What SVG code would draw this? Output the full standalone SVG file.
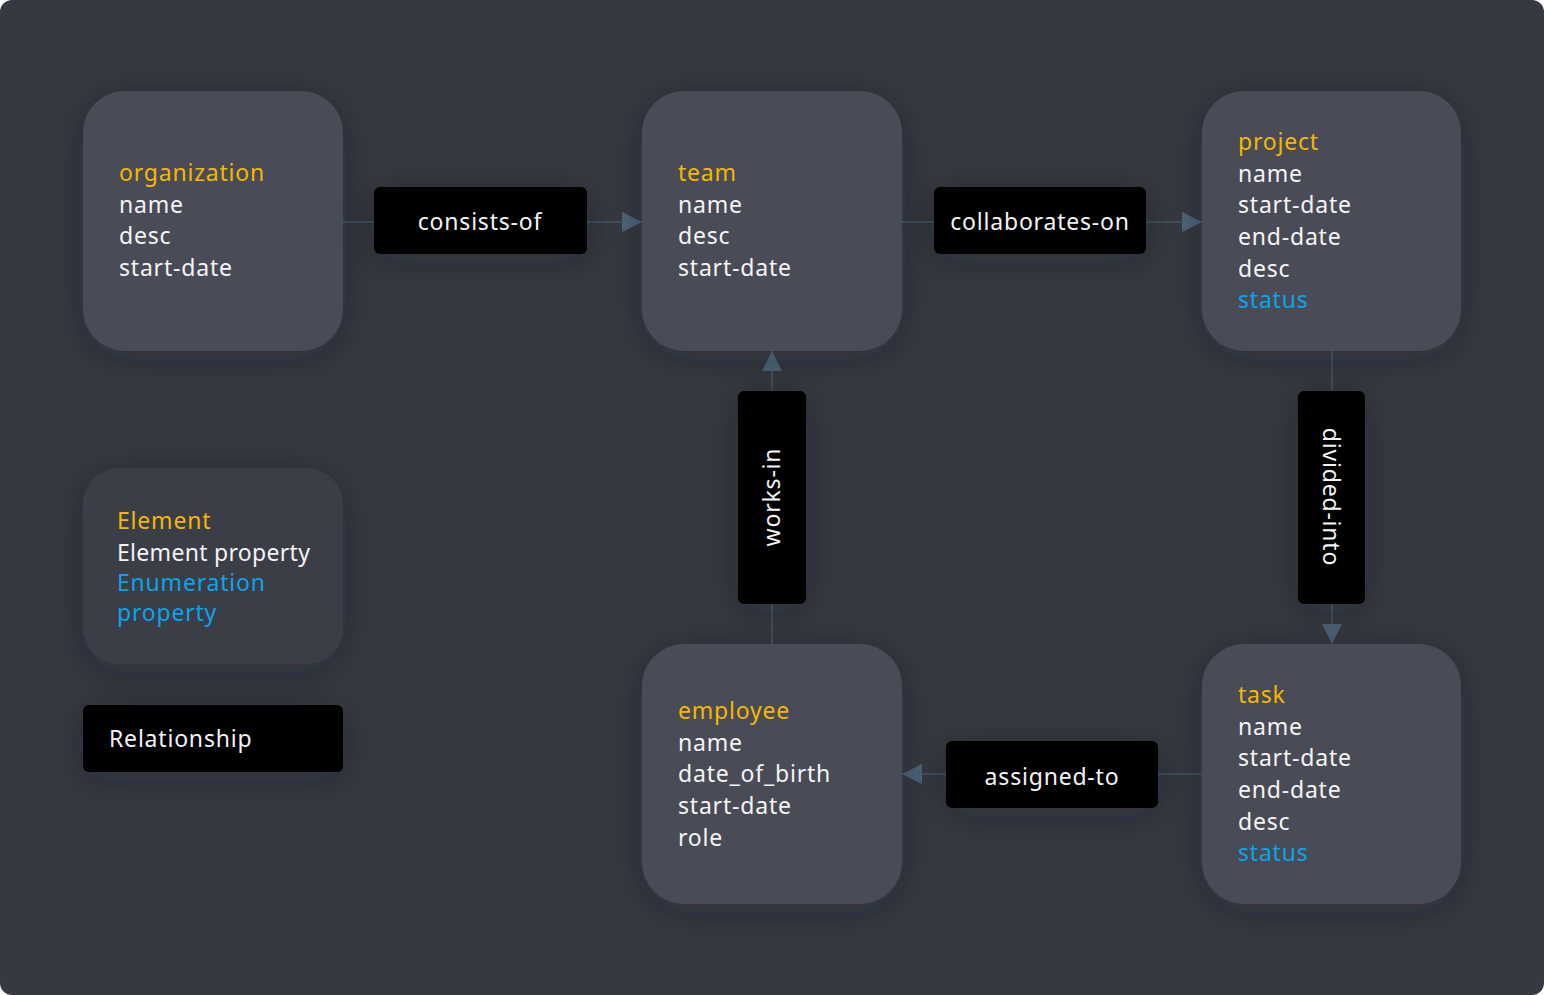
<svg xmlns="http://www.w3.org/2000/svg" width="1544" height="995" viewBox="0 0 1544 995">
<defs>
<filter id="sh" x="-50%" y="-50%" width="200%" height="200%">
<feGaussianBlur in="SourceAlpha" stdDeviation="18"/>
<feOffset dx="0" dy="6" result="b"/>
<feFlood flood-color="#1c1e22" flood-opacity="0.35"/>
<feComposite in2="b" operator="in"/>
<feMerge><feMergeNode/><feMergeNode in="SourceGraphic"/></feMerge>
</filter>
<marker id="ah" viewBox="0 0 20 20" refX="20" refY="10" markerWidth="20" markerHeight="20" markerUnits="userSpaceOnUse" orient="auto">
<path d="M0,0 L20,10 L0,20 Z" fill="#4d6579"/>
</marker>
<style>
text{font-family:"Noto Sans","Open Sans",sans-serif;font-size:23px;letter-spacing:0.8px;fill:#f4f4f4}
.el{fill:#f5b800}
.en{fill:#0aa5e8}
.node{fill:#484c56;filter:url(#sh)}
.leg{fill:#3a3d46;filter:url(#sh)}
.rel{fill:#000;filter:url(#sh)}
.c{stroke:#4d6579;stroke-width:1.2;fill:none}
.lbl{text-anchor:middle}
</style>
</defs>
<rect x="0" y="0" width="1544" height="995" rx="12" fill="#363941"/>

<g id="connectors">
<line class="c" x1="343" y1="222" x2="374" y2="222"/>
<line class="c" x1="587" y1="222" x2="642" y2="222" marker-end="url(#ah)"/>
<line class="c" x1="902" y1="222" x2="934" y2="222"/>
<line class="c" x1="1146" y1="222" x2="1202" y2="222" marker-end="url(#ah)"/>
<line class="c" x1="1332" y1="351" x2="1332" y2="391"/>
<line class="c" x1="1332" y1="604" x2="1332" y2="644" marker-end="url(#ah)"/>
<line class="c" x1="1202" y1="774" x2="1158" y2="774"/>
<line class="c" x1="946" y1="774" x2="902" y2="774" marker-end="url(#ah)"/>
<line class="c" x1="772" y1="644" x2="772" y2="604"/>
<line class="c" x1="772" y1="391" x2="772" y2="351" marker-end="url(#ah)"/>
</g>

<g id="organization">
<rect class="node" x="83" y="91" width="260" height="260" rx="42"/>
<text x="119" y="181" class="el">organization</text>
<text x="119" y="213">name</text>
<text x="119" y="244">desc</text>
<text x="119" y="276">start-date</text>
</g>

<g id="team">
<rect class="node" x="642" y="91" width="260" height="260" rx="42"/>
<text x="678" y="181" class="el">team</text>
<text x="678" y="213">name</text>
<text x="678" y="244">desc</text>
<text x="678" y="276">start-date</text>
</g>

<g id="project">
<rect class="node" x="1202" y="91" width="259" height="260" rx="42"/>
<text x="1238" y="150" class="el">project</text>
<text x="1238" y="182">name</text>
<text x="1238" y="213">start-date</text>
<text x="1238" y="245">end-date</text>
<text x="1238" y="277">desc</text>
<text x="1238" y="308" class="en">status</text>
</g>

<g id="task">
<rect class="node" x="1202" y="644" width="259" height="260" rx="42"/>
<text x="1238" y="703" class="el">task</text>
<text x="1238" y="735">name</text>
<text x="1238" y="766">start-date</text>
<text x="1238" y="798">end-date</text>
<text x="1238" y="830">desc</text>
<text x="1238" y="861" class="en">status</text>
</g>

<g id="employee">
<rect class="node" x="642" y="644" width="260" height="260" rx="42"/>
<text x="678" y="719" class="el">employee</text>
<text x="678" y="751">name</text>
<text x="678" y="782">date_of_birth</text>
<text x="678" y="814">start-date</text>
<text x="678" y="846">role</text>
</g>

<g id="consists-of">
<rect class="rel" x="374" y="187" width="213" height="67" rx="6"/>
<text x="480" y="230" class="lbl">consists-of</text>
</g>

<g id="collaborates-on">
<rect class="rel" x="934" y="187" width="212" height="67" rx="6"/>
<text x="1040" y="230" class="lbl">collaborates-on</text>
</g>

<g id="works-in">
<rect class="rel" x="738" y="391" width="68" height="213" rx="6"/>
<text x="0" y="0" class="lbl" transform="translate(780 497) rotate(-90)">works-in</text>
</g>

<g id="divided-into">
<rect class="rel" x="1298" y="391" width="67" height="213" rx="6"/>
<text x="0" y="0" class="lbl" transform="translate(1323 497) rotate(90)">divided-into</text>
</g>

<g id="assigned-to">
<rect class="rel" x="946" y="741" width="212" height="67" rx="6"/>
<text x="1052" y="785" class="lbl">assigned-to</text>
</g>

<g id="legend-element">
<rect class="leg" x="83" y="468" width="260" height="196" rx="36"/>
<text x="117" y="529" class="el">Element</text>
<text x="117" y="561" style="letter-spacing:0.3px">Element property</text>
<text x="117" y="591" class="en">Enumeration</text>
<text x="117" y="621" class="en">property</text>
</g>

<g id="legend-relationship">
<rect class="rel" x="83" y="705" width="260" height="67" rx="6"/>
<text x="109" y="747">Relationship</text>
</g>
</svg>
